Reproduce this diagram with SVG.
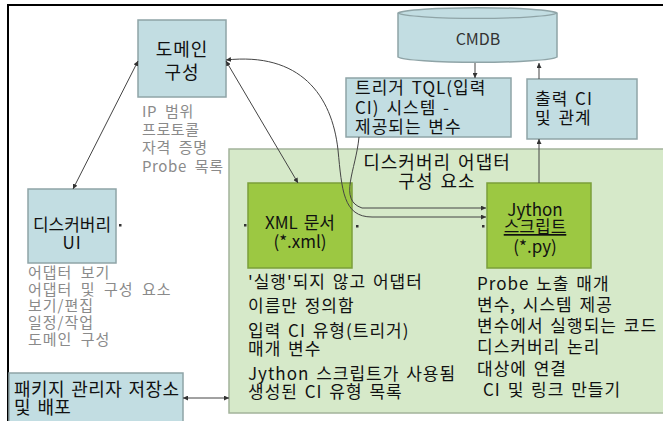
<svg xmlns="http://www.w3.org/2000/svg" width="663" height="421" viewBox="0 0 663 421">
<style>
text{font-family:"Noto Sans CJK KR","Noto Sans",sans-serif;}
.blue{fill:#c2dde2;stroke:#8fa4a7;stroke-width:1.5;}
.green{fill:#9cc842;stroke:#7b9f3a;stroke-width:1.5;}
.t{font-size:17px;fill:#111;letter-spacing:1px;word-spacing:2px;}
.g{font-size:15px;fill:#8a8a8a;letter-spacing:1px;word-spacing:4px;}
.c{text-anchor:middle;}
.ln{fill:none;stroke:#444;stroke-width:1;}
.dot{fill:#333;}
</style>
<defs>
<marker id="ah" viewBox="0 0 6 6" refX="6" refY="3" markerWidth="5" markerHeight="5" markerUnits="userSpaceOnUse" orient="auto-start-reverse">
<path d="M0,0 L6,3 L0,6 Z" fill="#333"/>
</marker>
</defs>
<rect x="0" y="0" width="663" height="421" fill="#fff"/>
<rect x="8" y="5" width="700" height="500" fill="none" stroke="#000" stroke-width="2"/>

<g id="container">
<rect x="229" y="149" width="440" height="264" fill="#d6e9c9" stroke="#a3b39a" stroke-width="1.5"/>
<text class="t c" x="437" y="169" style="font-size:18px">디스커버리 어댑터</text>
<text class="t c" x="437" y="188" style="font-size:18px">구성 요소</text>
</g>

<g id="cmdb">
<path d="M398,13 A80,6 0 0 1 557,13 L557,57 A80,6 0 0 1 398,57 Z" fill="#c2dde2" stroke="#8fa4a7" stroke-width="1.5"/>
<path d="M398,13 A80,6 0 0 0 557,13" fill="none" stroke="#8fa4a7" stroke-width="1.2"/>
<text class="c" x="478" y="45" style="font-size:16px;fill:#333">CMDB</text>
</g>

<g id="domain">
<rect class="blue" x="138" y="20" width="88" height="77"/>
<text class="t c" x="182" y="56" style="font-size:18px">도메인</text>
<text class="t c" x="182" y="79" style="font-size:18px">구성</text>
<text class="g" x="142" y="117" style="letter-spacing:0.6px">IP 범위</text>
<text class="g" x="142" y="135" style="letter-spacing:0.6px">프로토콜</text>
<text class="g" x="142" y="153" style="letter-spacing:0.6px">자격 증명</text>
<text class="g" x="142" y="172" style="letter-spacing:0.6px">Probe 목록</text>
</g>

<g id="discovery-ui">
<rect class="blue" x="28" y="189" width="88" height="74"/>
<text class="t c" x="72" y="231" style="letter-spacing:0">디스커버리</text>
<text class="t c" x="72" y="249">UI</text>
<text class="g" x="28" y="278">어댑터 보기</text>
<text class="g" x="28" y="295">어댑터 및 구성 요소</text>
<text class="g" x="28" y="311">보기/편집</text>
<text class="g" x="28" y="328">일정/작업</text>
<text class="g" x="28" y="345">도메인 구성</text>
</g>

<g id="package">
<rect class="blue" x="9" y="373" width="174" height="60"/>
<text class="t" x="14" y="396" style="font-size:18px;letter-spacing:0.4px">패키지 관리자 저장소</text>
<text class="t" x="14" y="414" style="font-size:18px;letter-spacing:0.4px">및 배포</text>
</g>

<g id="trigger">
<rect class="blue" x="346" y="78" width="165" height="59"/>
<text class="t" x="355" y="94">트리거 TQL(입력</text>
<text class="t" x="355" y="114">CI) 시스템 -</text>
<text class="t" x="355" y="133">제공되는 변수</text>
</g>

<g id="output">
<rect class="blue" x="527" y="79" width="110" height="60"/>
<text class="t" x="535" y="105">출력 CI</text>
<text class="t" x="535" y="124">및 관계</text>
</g>

<g id="xml">
<rect class="green" x="248" y="183" width="104" height="85"/>
<text class="t c" x="300" y="229" style="letter-spacing:0">XML 문서</text>
<text class="t c" x="300" y="248" style="letter-spacing:0">(*.xml)</text>
<text class="t" x="248" y="288">'실행'되지 않고 어댑터</text>
<text class="t" x="248" y="312">이름만 정의함</text>
<text class="t" x="248" y="337">입력 CI 유형(트리거)</text>
<text class="t" x="248" y="355">매개 변수</text>
<text class="t" x="248" y="380">Jython 스크립트가 사용됨</text>
<text class="t" x="248" y="398">생성된 CI 유형 목록</text>
</g>

<g id="jython">
<rect class="green" x="487" y="183" width="104" height="85"/>
<text class="t c" x="535" y="216" style="letter-spacing:0">Jython</text>
<text class="t c" x="535" y="233" style="letter-spacing:0;text-decoration:underline">스크립트</text>
<text class="t c" x="535" y="253" style="letter-spacing:0">(*.py)</text>
<text class="t" x="477" y="290">Probe 노출 매개</text>
<text class="t" x="477" y="311">변수, 시스템 제공</text>
<text class="t" x="477" y="332">변수에서 실행되는 코드</text>
<text class="t" x="477" y="353">디스커버리 논리</text>
<text class="t" x="477" y="375">대상에 연결</text>
<text class="t" x="483" y="396">CI 및 링크 만들기</text>
</g>

<g id="connectors">
<line class="ln" x1="138" y1="61" x2="73" y2="189" marker-start="url(#ah)" marker-end="url(#ah)"/>
<line class="ln" x1="226" y1="61" x2="298" y2="183" marker-start="url(#ah)" marker-end="url(#ah)"/>
<path class="ln" d="M226,60 C300,52 332,95 338,150 C342,190 343,217 372,217 L486,217" marker-start="url(#ah)" marker-end="url(#ah)"/>
<path class="ln" d="M359,137 C356,170 338,200 362,208 L486,208" marker-end="url(#ah)"/>
<line class="ln" x1="475" y1="63" x2="475" y2="78" marker-end="url(#ah)"/>
<line class="ln" x1="539" y1="79" x2="539" y2="63" marker-end="url(#ah)"/>
<line class="ln" x1="539" y1="183" x2="539" y2="139" marker-end="url(#ah)"/>
<line class="ln" x1="183" y1="398" x2="229" y2="398" marker-start="url(#ah)" marker-end="url(#ah)"/>
<rect class="dot" x="119" y="224" width="2.5" height="2.5"/>
<rect class="dot" x="244" y="224" width="2.5" height="2.5"/>
<rect class="dot" x="356" y="225" width="2.5" height="2.5"/>
<rect class="dot" x="482" y="225" width="2.5" height="2.5"/>
</g>
</svg>
